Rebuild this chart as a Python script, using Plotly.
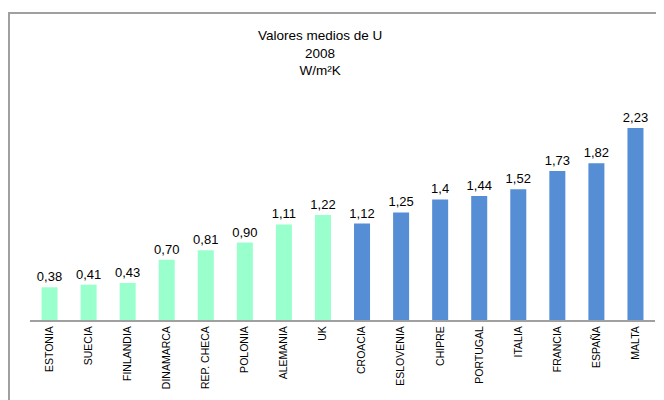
import plotly.graph_objects as go

countries = ["ESTONIA", "SUECIA", "FINLANDIA", "DINAMARCA", "REP. CHECA", "POLONIA",
             "ALEMANIA", "UK", "CROACIA", "ESLOVENIA", "CHIPRE", "PORTUGAL", "ITALIA",
             "FRANCIA", "ESPAÑA", "MALTA"]
values = [0.38, 0.41, 0.43, 0.70, 0.81, 0.90, 1.11, 1.22, 1.12, 1.25, 1.4, 1.44, 1.52,
          1.73, 1.82, 2.23]
labels = ["0,38", "0,41", "0,43", "0,70", "0,81", "0,90", "1,11", "1,22", "1,12", "1,25",
          "1,4", "1,44", "1,52", "1,73", "1,82", "2,23"]
n_green = 8
green = "#99FFCC"
blue = "#558ED5"
colors = [green] * n_green + [blue] * (len(countries) - n_green)

fig = go.Figure(go.Bar(
    x=countries, y=values, text=labels, textposition="outside",
    constraintext="none",
    marker=dict(color=colors, line=dict(width=0)),
    textfont=dict(family="Liberation Sans, Arial", size=13, color="#000000"),
    cliponaxis=False,
))

fig.update_layout(
    width=664, height=400,
    margin=dict(l=22, r=17, t=52, b=88),
    paper_bgcolor="white", plot_bgcolor="white",
    bargap=0.59,
    showlegend=False,
    font=dict(family="Liberation Sans, Arial", color="#000000"),
    title=dict(text="Valores medios de U<br>2008<br>W/m²K", x=0.47, xanchor="center",
               y=0.92, yanchor="top",
               font=dict(family="Liberation Sans, Arial", size=13.5, color="#000000")),
    xaxis=dict(tickangle=-90, tickfont=dict(size=10.5, family="Liberation Sans, Arial"),
               showline=True, linecolor="#A0A0A0", linewidth=2, ticks="", showgrid=False,
               automargin=False),
    yaxis=dict(range=[0, 3.02], visible=False, showgrid=False, automargin=False),
    shapes=[dict(type="rect", xref="paper", yref="paper", x0=-0.0336, x1=1.2,
                 y0=-0.6, y1=1.181, line=dict(color="#A0A0A0", width=2),
                 fillcolor="rgba(0,0,0,0)", layer="below")],
)

fig.write_html("out.html")
